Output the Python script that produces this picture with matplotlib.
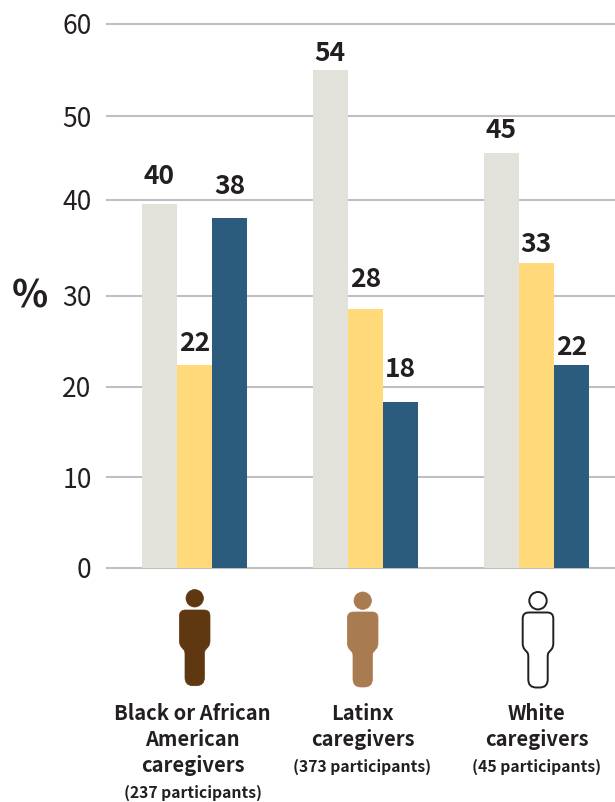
# -*- coding: utf-8 -*-
import matplotlib
matplotlib.use("Agg")
import matplotlib.pyplot as plt
from matplotlib.path import Path
from matplotlib.patches import PathPatch, Circle

plt.rcParams["font.family"] = ["Noto Sans CJK SC", "DejaVu Sans"]

# ======================================================
# DATA
# ======================================================
groups = [["Black or African", "American", "caregivers"], ["Latinx", "caregivers"], ["White", "caregivers"]]
participants = ["(237 participants)", "(373 participants)", "(45 participants)"]

# bars are drawn a little above the rounded number printed over them
series_a = [40.2, 54.9, 45.8]
series_b = [22.4, 28.6, 33.6]
series_c = [38.6, 18.3, 22.4]
labels_a = ["40", "54", "45"]
labels_b = ["22", "28", "33"]
labels_c = ["38", "18", "22"]

tick_pos = [0, 10, 20, 30, 40.6, 49.8, 60]
tick_labels = ["0", "10", "20", "30", "40", "50", "60"]

# ======================================================
# STYLE
# ======================================================
W, H = 615, 802
dark = "#231f20"
grid_col = "#bfbfbf"
bar_cols = ["#e2e2da", "#ffd97a", "#2b5c7e"]
bar_w = 0.206
# gap in px between bar top and centre of its number
label_gaps = [[27, 17, 22], [21, 29, 19], [32, 33, 17]]

fig = plt.figure(figsize=(W / 100, H / 100), dpi=100)
ax = fig.add_axes([107 / W, (H - 568) / H, (W - 107) / W, (568 - 24) / H])
ax.set_xlim(-0.511, 2.460)
ax.set_ylim(0, 60)

for s in ax.spines.values():
    s.set_visible(False)
ax.set_xticks([])
ax.set_yticks(tick_pos)
ax.set_yticklabels(tick_labels, fontsize=19, color=dark)
ax.tick_params(axis="y", length=0, pad=11)
ax.grid(True, axis="y", color=grid_col, lw=1.5, clip_on=False)
ax.set_axisbelow(True)

# ======================================================
# BARS
# ======================================================
all_vals = [series_a, series_b, series_c]
all_labels = [labels_a, labels_b, labels_c]
for k in range(3):
    xs = [g + (k - 1) * bar_w for g in range(3)]
    ax.bar(xs, all_vals[k], width=bar_w, color=bar_cols[k], zorder=3)
    for x, v, lab, gap in zip(xs, all_vals[k], all_labels[k], label_gaps[k]):
        ax.annotate(lab, (x, v), xytext=(0, gap * 0.72), textcoords="offset points",
                    ha="center", va="center", fontsize=19, fontweight=900,
                    color=dark, zorder=4)

# ======================================================
# OVERLAY IN PIXELS: % SIGN, PEOPLE, GROUP NAMES
# ======================================================
ov = fig.add_axes([0, 0, 1, 1], facecolor="none")
ov.set_xlim(0, W)
ov.set_ylim(H, 0)
ov.axis("off")

ov.text(30, 296, "%", ha="center", va="center", fontsize=27, fontweight=900, color=dark)


def person(cx, head_y, top, bottom, face, edge, lw):
    hw, lg = 15.3, 9.7
    waist = top + 31
    c = 6
    verts = [
        (cx - hw + c, top),
        (cx + hw - c, top), (cx + hw, top), (cx + hw, top + c),
        (cx + hw, waist),
        (cx + hw, waist + 4), (cx + hw - 2, waist + 6),
        (cx + lg + 1, waist + 9), (cx + lg, waist + 10), (cx + lg, waist + 13),
        (cx + lg, bottom - 8), (cx + lg, bottom), (cx + lg - 8, bottom),
        (cx - lg + 8, bottom), (cx - lg, bottom), (cx - lg, bottom - 8),
        (cx - lg, waist + 13), (cx - lg, waist + 10), (cx - lg - 1, waist + 9),
        (cx - hw + 2, waist + 6), (cx - hw, waist + 4), (cx - hw, waist),
        (cx - hw, top + c), (cx - hw, top), (cx - hw + c, top),
        (cx - hw + c, top),
    ]
    L, C = Path.LINETO, Path.CURVE3
    codes = [Path.MOVETO, L, C, C, L, C, C, L, C, C, L, C, C, L, C, C, L, C, C, L, C, C,
             L, C, C, Path.CLOSEPOLY]
    ov.add_patch(PathPatch(Path(verts, codes), facecolor=face, edgecolor=edge, lw=lw))
    ov.add_patch(Circle((cx, head_y), 8.7, facecolor=face, edgecolor=edge, lw=lw))


person(194.7, 598.3, 610, 685.7, "#5f3811", "#5f3811", 0.5)
person(362.7, 600.7, 612, 687, "#a87b50", "#a87b50", 0.5)
person(538, 600.7, 612.5, 687.5, "white", dark, 1.4)

name_x = [192.5, 362.5, 536.5]
for x, lines, sub in zip(name_x, groups, participants):
    y = 714
    for line in lines:
        ov.text(x, y, line, ha="center", va="center", fontsize=14.5, fontweight="bold", color=dark)
        y += 26
    ov.text(x, y + 1, sub, ha="center", va="center", fontsize=11.3, fontweight="bold", color=dark)

fig.savefig("out.png", dpi=100)
